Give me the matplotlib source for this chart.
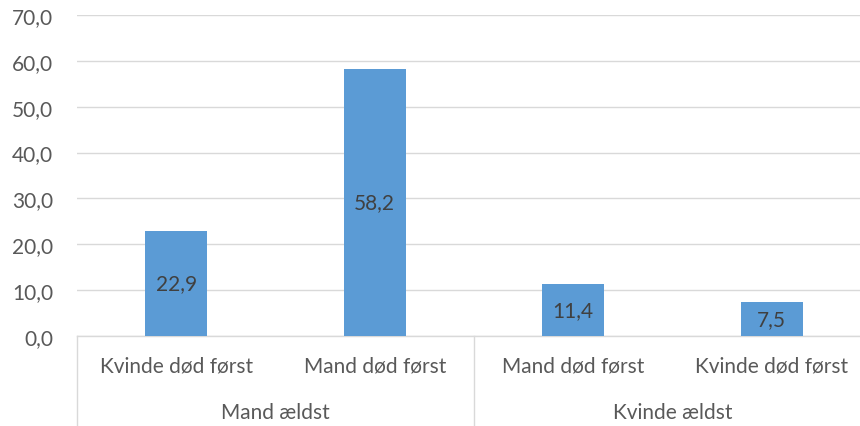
import numpy as np
import matplotlib.pyplot as plt
from matplotlib.lines import Line2D

categories = ["Kvinde død først", "Mand død først", "Mand død først", "Kvinde død først"]
groups = ["Mand ældst", "Kvinde ældst"]
group_sizes = [2, 2]
values = [22.9, 58.2, 11.4, 7.5]
yticks = np.arange(0, 71, 10)

plt.rcParams['font.family'] = ['Lato', 'DejaVu Sans']
text_col = '#595959'
grid_col = '#d9d9d9'
fs = 15

fig = plt.figure(figsize=(8.6, 4.27), dpi=100)
# plot area runs slightly past the right edge of the picture, as in the original
ax = fig.add_axes([77/860, 1 - 337/427, (871 - 77)/860, (337 - 16)/427])

x = np.arange(len(values))
bars = ax.bar(x, values, width=0.31, color='#5b9bd5', zorder=3)
for b, v in zip(bars, values):
    ax.text(b.get_x() + b.get_width()/2, v/2, f"{v:.1f}".replace('.', ','),
            ha='center', va='center', fontsize=fs, color='#404040', zorder=4)

ax.set_xlim(-0.5, len(values) - 0.5)
ax.set_ylim(0, 70)
ax.set_yticks(yticks)
ax.set_yticklabels([f"{t:.1f}".replace('.', ',') for t in yticks], fontsize=fs, color=text_col)
ax.tick_params(axis='y', length=0, pad=17)
ax.set_xticks([])
ax.yaxis.grid(True, color=grid_col, linewidth=1)
for s in ['top', 'right', 'left']:
    ax.spines[s].set_visible(False)
ax.spines['bottom'].set_color(grid_col)
ax.spines['bottom'].set_linewidth(1)

# multi level category axis
tr = ax.get_xaxis_transform()
for i, c in enumerate(categories):
    ax.text(i, -30/321, c, transform=tr, ha='center', va='center', fontsize=fs, color=text_col)
start = 0
bounds = [-0.5]
for g, n in zip(groups, group_sizes):
    ax.text(start + (n - 1)/2, -76/321, g, transform=tr, ha='center', va='center',
            fontsize=fs, color=text_col)
    start += n
    bounds.append(start - 0.5)
for bnd in bounds:
    ax.add_line(Line2D([bnd, bnd], [0, -95/321], transform=tr, color=grid_col,
                       linewidth=1, clip_on=False))

fig.savefig("out.png", dpi=100)
